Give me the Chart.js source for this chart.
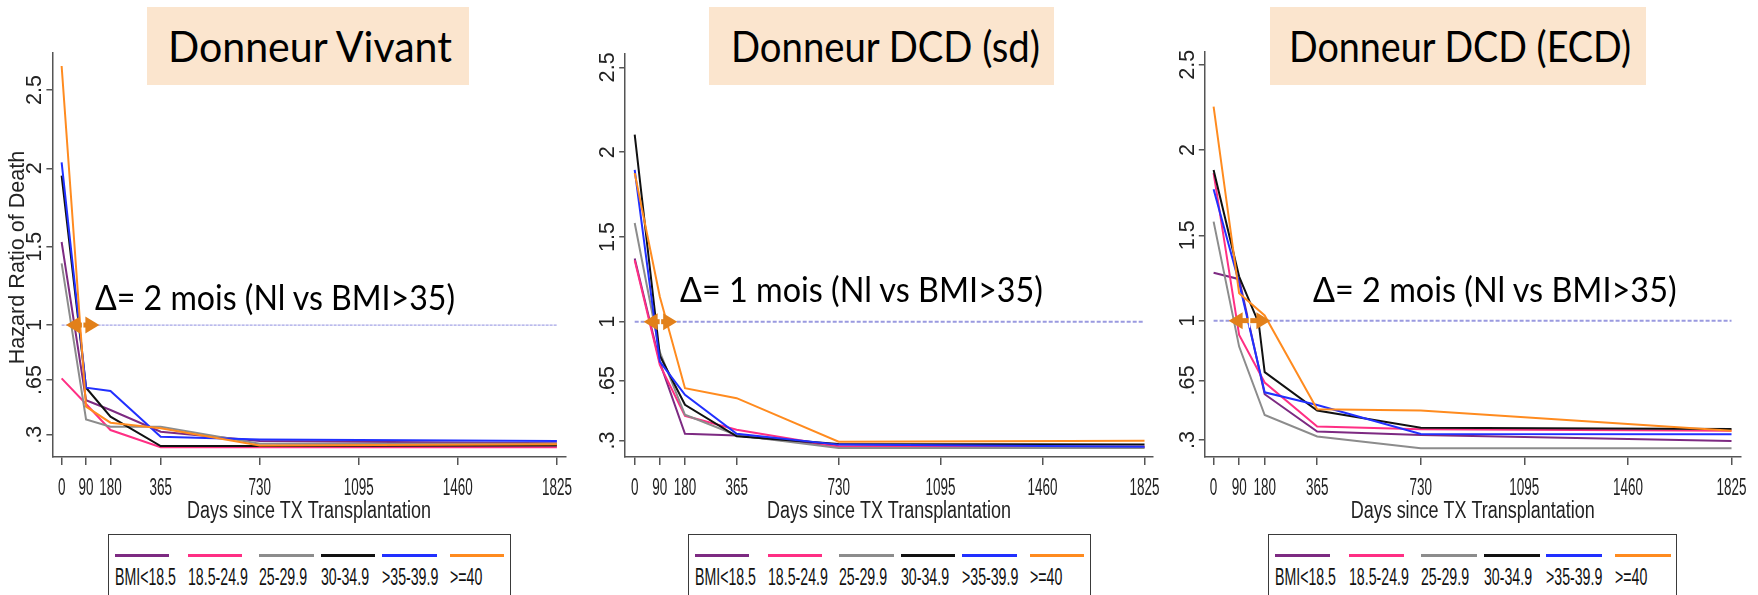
<!DOCTYPE html>
<html>
<head>
<meta charset="utf-8">
<script src="https://cdn.jsdelivr.net/npm/chart.js@4.4.0/dist/chart.umd.min.js"></script>
<style>
  html, body { margin: 0; padding: 0; }
  body { width: 1758px; height: 595px; overflow: hidden; position: relative; background: #fff; }
  canvas { position: absolute; top: 0; }
  .tbox { position: absolute; top: 7px; height: 78px; background: #fbe5ce; }
  .txt { position: absolute; white-space: nowrap; line-height: 1.2; color: #000; transform-origin: 0 0; }
  .serif { font-family: 'Lato', 'Open Sans', sans-serif; }
  .lab { font-family: 'Liberation Sans', Arial, sans-serif; color: #111; }
  .base { display: inline-block; width: 0; height: 0; vertical-align: baseline; }
  .lbox { position: absolute; top: 534px; height: 80px; border: 1.5px solid #3a3a3a; box-sizing: border-box; }
  .seg { position: absolute; height: 3px; }
</style>
</head>
<body>
<canvas id="c1"></canvas>
<canvas id="c2"></canvas>
<canvas id="c3"></canvas>
<script>
// days after transplantation where the hazard ratio is reported
const days = [0, 90, 180, 365, 730, 1825];
const ecdDays = [0, 90, 159, 180, 365, 730, 1825];
const xTickDays = [0, 90, 180, 365, 730, 1095, 1460, 1825];
const yTickValues = [0.3, 0.65, 1, 1.5, 2, 2.5];
const yTickLabels = ['.3', '.65', '1', '1.5', '2', '2.5'];

const bmiGroups = ['BMI<18.5', '18.5-24.9', '25-29.9', '30-34.9', '>35-39.9', '>=40'];
const bmiColors = ['#7d2a82', '#ff2f84', '#8c8c8c', '#111111', '#2130ff', '#ff8b1f'];

const panelTitles = ['Donneur Vivant', 'Donneur DCD (sd)', 'Donneur DCD (ECD)'];
const deltaTexts = ['\u0394= 2 mois (Nl vs BMI>35)', '\u0394= 1 mois (Nl vs BMI>35)', '\u0394= 2 mois (Nl vs BMI>35)'];
const xTitle = 'Days since TX Transplantation';

// hazard ratio of death, one row per BMI group
const vivantHR = [
  [1.53, 0.52, 0.458, 0.319, 0.26, 0.245],
  [0.66, 0.496, 0.33, 0.22, 0.22, 0.22],
  [1.394, 0.398, 0.351, 0.351, 0.243, 0.243],
  [1.953, 0.60, 0.415, 0.228, 0.228, 0.232],
  [2.038, 0.60, 0.579, 0.287, 0.27, 0.26],
  [2.653, 0.479, 0.377, 0.341, 0.231, 0.239]
];
const dcdSdHR = [
  [1.373, 0.76, 0.339, 0.329, 0.265, 0.26],
  [1.363, 0.745, 0.445, 0.363, 0.262, 0.262],
  [1.582, 0.82, 0.451, 0.33, 0.255, 0.255],
  [2.104, 0.80, 0.51, 0.324, 0.279, 0.275],
  [1.896, 0.765, 0.569, 0.339, 0.275, 0.262],
  [1.876, 1.147, 0.608, 0.549, 0.292, 0.298]
];
// null = no estimate at that day for the group
const dcdEcdHR = [
  [1.281, 1.243, null, 0.569, 0.35, 0.33, 0.295],
  [1.864, 0.916, null, 0.637, 0.379, 0.364, 0.355],
  [1.58, 0.848, null, 0.447, 0.321, 0.252, 0.252],
  [1.883, 1.258, 0.985, 0.698, 0.473, 0.373, 0.365],
  [1.77, 1.22, null, 0.58, 0.506, 0.336, 0.335],
  [2.254, 1.16, null, 1.03, 0.481, 0.473, 0.355]
];
// double arrow on the HR = 1 line (start day, end day)
const arrowDays = [[16, 139], [32, 152], [53, 200]];

const TEXT_FONT = "'Liberation Sans', Arial, sans-serif";

// plot area of each panel: left, top, right, bottom (axis lines)
const panels = [
  { id: 'c1', days: days, hr: vivantHR, area: [52.4, 52.7, 565.6, 457], xMin: -34, xMax: 1857, yMin: 0.158, yMax: 2.738,
    refDash: [3, 1], refWidth: 1.3, refColor: '#a4a4e6', yTitle: 'Hazard Ratio of Death',
    titleBox: [147, 469], titleText: [168, 284], delta: [95, 310, 360], legend: [108, 511] },
  { id: 'c2', days: days, hr: dcdSdHR, area: [625.2, 53.3, 1152.9, 457], xMin: -34, xMax: 1855, yMin: 0.202, yMax: 2.583,
    refDash: [4, 2], refWidth: 2, refColor: '#9a9ae0', yTitle: null,
    titleBox: [709, 1054], titleText: [731, 309], delta: [680.3, 301.7, 363], legend: [688, 1091] },
  { id: 'c3', days: ecdDays, hr: dcdEcdHR, area: [1204.8, 52, 1740.6, 457], xMin: -31, xMax: 1857, yMin: 0.201, yMax: 2.574,
    refDash: [4, 2], refWidth: 2, refColor: '#9a9ae0', yTitle: null,
    titleBox: [1270, 1646], titleText: [1289, 342], delta: [1313, 301.7, 363.6], legend: [1268, 1677.4] }
];

const Y_AXIS_W = 52, X_AXIS_H = 64, RIGHT_PAD = 17;

function squeezedText(ctx, text, x, y, size, sx) {
  ctx.save();
  ctx.font = size + 'px ' + TEXT_FONT;
  ctx.translate(x, y);
  ctx.scale(sx, 1);
  ctx.fillText(text, 0, 0);
  ctx.restore();
}

const decoPlugin = {
  id: 'deco',
  afterDatasetsDraw(chart, args, opts) {
    const { ctx, scales: { x, y } } = chart;
    const yy = y.getPixelForValue(1);
    const x0 = x.getPixelForValue(opts.arrow[0]);
    const x1 = x.getPixelForValue(opts.arrow[1]);
    const head = 14, half = 8.5;
    ctx.save();
    ctx.fillStyle = '#e2801a';
    ctx.strokeStyle = '#e2801a';
    ctx.lineWidth = 5;
    ctx.beginPath();
    ctx.moveTo(x0 + head - 1, yy);
    ctx.lineTo(x1 - head + 1, yy);
    ctx.stroke();
    ctx.beginPath();
    ctx.moveTo(x0, yy);
    ctx.lineTo(x0 + head, yy - half);
    ctx.lineTo(x0 + head, yy + half);
    ctx.closePath();
    ctx.fill();
    ctx.beginPath();
    ctx.moveTo(x1, yy);
    ctx.lineTo(x1 - head, yy - half);
    ctx.lineTo(x1 - head, yy + half);
    ctx.closePath();
    ctx.fill();
    const xm = (x0 + x1) / 2;
    ctx.strokeStyle = '#ffffff';
    ctx.lineWidth = 1.5;
    ctx.beginPath();
    ctx.moveTo(xm, yy - 7);
    ctx.lineTo(xm, yy + 7);
    ctx.stroke();
    ctx.restore();
  },
  afterDraw(chart, args, opts) {
    const { ctx, chartArea, scales: { x, y } } = chart;
    ctx.save();
    ctx.fillStyle = '#222';
    ctx.textAlign = 'center';
    ctx.textBaseline = 'alphabetic';
    // Stata style vertical tick labels
    ctx.font = '20px ' + TEXT_FONT;
    const s = 20 * 30 / ctx.measureText('2.5').width;
    ctx.font = s.toFixed(1) + 'px ' + TEXT_FONT;
    y.ticks.forEach(t => {
      const label = yTickLabels[yTickValues.indexOf(t.value)];
      ctx.save();
      ctx.translate(chartArea.left - 11, y.getPixelForValue(t.value));
      ctx.rotate(-Math.PI / 2);
      ctx.fillText(label, 0, 0);
      ctx.restore();
    });
    if (opts.yTitle) {
      ctx.font = '20px ' + TEXT_FONT;
      const ts = 20 * 214 / ctx.measureText(opts.yTitle).width;
      ctx.font = ts.toFixed(1) + 'px ' + TEXT_FONT;
      ctx.save();
      ctx.translate(chartArea.left - 28, 257.5);
      ctx.rotate(-Math.PI / 2);
      ctx.fillText(opts.yTitle, 0, 0);
      ctx.restore();
    }
    // condensed labels under the time axis
    ctx.font = '24px ' + TEXT_FONT;
    const sx = 30 / ctx.measureText('1825').width;
    x.ticks.forEach(t => {
      squeezedText(ctx, String(t.value), x.getPixelForValue(t.value), chartArea.bottom + 38, 24, sx);
    });
    ctx.font = '23px ' + TEXT_FONT;
    const tx = 244 / ctx.measureText(xTitle).width;
    squeezedText(ctx, xTitle, (chartArea.left + chartArea.right) / 2, chartArea.bottom + 61, 23, tx);
    ctx.restore();
  }
};

panels.forEach((p, pi) => {
  const [aL, aT, aR, aB] = p.area;
  const left = Math.round(aL - Y_AXIS_W);
  const width = Math.min(1758 - left, Math.round(aR + RIGHT_PAD - left));
  const height = Math.round(aB + X_AXIS_H + 8);
  const cv = document.getElementById(p.id);
  cv.width = width;
  cv.height = height;
  cv.style.left = left + 'px';
  cv.style.width = width + 'px';
  cv.style.height = height + 'px';

  const datasets = bmiGroups.map((g, i) => ({
    label: g,
    data: p.days.map((d, k) => ({ x: d, y: p.hr[i][k] })).filter(pt => pt.y !== null),
    borderColor: bmiColors[i],
    borderWidth: 2,
    pointRadius: 0,
    fill: false,
    order: bmiGroups.length - i
  }));
  datasets.push({
    label: 'HR = 1',
    data: [{ x: 0, y: 1 }, { x: 1825, y: 1 }],
    borderColor: p.refColor,
    borderWidth: p.refWidth,
    borderDash: p.refDash,
    pointRadius: 0,
    order: 20
  });

  new Chart(cv, {
    type: 'line',
    data: { datasets },
    options: {
      responsive: false,
      animation: false,
      events: [],
      devicePixelRatio: 1,
      layout: { padding: { left: aL - Y_AXIS_W - left, top: aT, right: width - (aR - left), bottom: height - aB - X_AXIS_H } },
      plugins: {
        legend: { display: false },
        tooltip: { enabled: false },
        deco: { arrow: arrowDays[pi], yTitle: p.yTitle }
      },
      elements: { line: { tension: 0 } },
      scales: {
        x: {
          type: 'linear',
          min: p.xMin,
          max: p.xMax,
          afterBuildTicks: s => { s.ticks = xTickDays.map(v => ({ value: v })); },
          afterFit: s => { s.height = X_AXIS_H; },
          grid: { drawOnChartArea: false, drawTicks: true, tickLength: 8, color: '#555', lineWidth: 1.5 },
          border: { display: true, color: '#555', width: 1.5 },
          ticks: { display: false }
        },
        y: {
          min: p.yMin,
          max: p.yMax,
          afterBuildTicks: s => { s.ticks = yTickValues.map(v => ({ value: v })); },
          afterFit: s => { s.width = Y_AXIS_W; },
          grid: { drawOnChartArea: false, drawTicks: true, tickLength: 6, color: '#555', lineWidth: 1.5 },
          border: { display: true, color: '#555', width: 1.5 },
          ticks: { display: false }
        }
      }
    },
    plugins: [decoPlugin]
  });
});

// put a text with its baseline at y; optionally squeeze it to a given width
function placeText(cls, text, left, baseline, size, width) {
  const el = document.createElement('span');
  el.className = 'txt ' + cls;
  el.textContent = text;
  el.style.fontSize = size + 'px';
  document.body.appendChild(el);
  const w = el.getBoundingClientRect().width;
  const mark = document.createElement('i');
  mark.className = 'base';
  el.appendChild(mark);
  const off = mark.getBoundingClientRect().top - el.getBoundingClientRect().top;
  el.style.left = left + 'px';
  el.style.top = (baseline - off) + 'px';
  if (width) el.style.transform = 'scaleX(' + (width / w).toFixed(4) + ')';
  return el;
}

// legend label squeeze, taken from the first label
const LABEL_SIZE = 24;
const probe = placeText('lab', bmiGroups[0], 0, -100, LABEL_SIZE, 0);
const labelScale = 61 / probe.getBoundingClientRect().width;
probe.remove();

// item positions inside a 403px wide legend box
const segStarts = [6.8, 79.5, 151, 212.7, 274, 341.7];
const segLen = 54.7;

panels.forEach((p, pi) => {
  const box = document.createElement('div');
  box.className = 'tbox';
  box.style.left = p.titleBox[0] + 'px';
  box.style.width = (p.titleBox[1] - p.titleBox[0]) + 'px';
  document.body.appendChild(box);
  placeText('serif', panelTitles[pi], p.titleText[0], 62.3, 42.8, p.titleText[1]);
  placeText('serif', deltaTexts[pi], p.delta[0], p.delta[1], 34.9, p.delta[2]);

  const [lL, lR] = p.legend;
  const k = (lR - lL) / 403;
  const lb = document.createElement('div');
  lb.className = 'lbox';
  lb.style.left = lL + 'px';
  lb.style.width = (lR - lL) + 'px';
  document.body.appendChild(lb);
  bmiGroups.forEach((g, i) => {
    const x = lL + segStarts[i] * k;
    const seg = document.createElement('div');
    seg.className = 'seg';
    seg.style.left = x + 'px';
    seg.style.top = '554px';
    seg.style.width = (segLen * k) + 'px';
    seg.style.background = bmiColors[i];
    document.body.appendChild(seg);
    const el = placeText('lab', g, x, 585, LABEL_SIZE, 0);
    el.style.transform = 'scaleX(' + labelScale.toFixed(4) + ')';
  });
});
</script>
</body>
</html>
